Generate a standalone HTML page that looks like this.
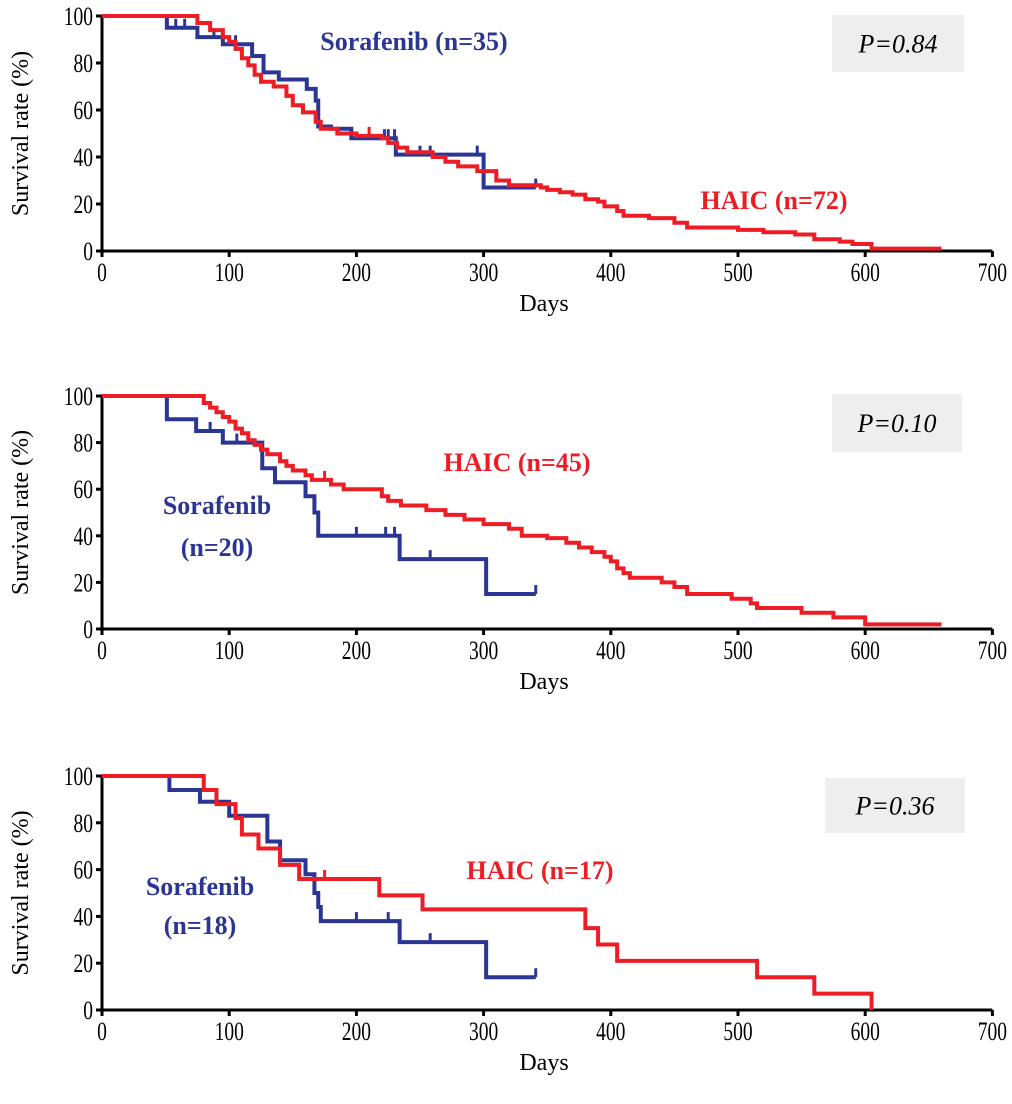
<!DOCTYPE html>
<html><head><meta charset="utf-8"><style>
html,body{margin:0;padding:0;background:#fff;}
svg{display:block;}
.tk{font-family:"Liberation Serif",serif;font-size:26px;fill:#000;}
.ttl{font-family:"Liberation Serif",serif;font-size:24px;fill:#000;}
.lab{font-family:"Liberation Serif",serif;font-weight:bold;font-size:26px;}
</style></head><body>
<svg id="chart" width="1012" height="1104" viewBox="0 0 1012 1104" xmlns="http://www.w3.org/2000/svg"></svg>
<script>
// Panel 1 data: [day, survival %]
const p1SoraT=[0,51,75,95,118,127,139,161,168,170,180,196,231,300,341];
const p1SoraS=[100,95,91,88,83,76,73,69,64,53,52,48,41,27,27];
const p1SoraCens=[58,65,88,105,118,196,222,225,230,250,258,295,341];
const p1HaicT=[0,68,75,85,95,100,105,110,115,120,125,135,145,150,158,168,172,185,200,220,225,232,240,260,270,280,295,310,320,345,350,360,370,380,390,395,405,410,430,450,460,500,520,545,560,580,590,605,660];
const p1HaicS=[100,100,97,94,91,89,86,82,79,75,72,70,66,62,59,55,52,50,49,48,46,44,42,40,38,36,34,30,28,27,26,25,24,22,21,19,17,15,14,12,10,9,8,7,5,4,3,1,1];
const p1HaicCens=[210];
// Panel 2
const p2SoraT=[0,51,74,95,126,136,160,167,170,234,302,341];
const p2SoraS=[100,90,85,80,69,63,57,50,40,30,15,15];
const p2SoraCens=[85,106,200,223,230,258,341];
const p2HaicT=[0,78,80,85,90,95,100,105,110,115,120,125,130,140,145,150,160,165,180,190,220,225,235,255,270,285,300,320,330,350,365,375,385,395,400,405,410,415,440,450,460,495,510,515,550,575,600,660];
const p2HaicS=[100,100,97,95,93,91,89,86,84,81,79,77,75,72,70,68,66,64,62,60,57,55,53,51,49,47,45,43,40,39,37,35,33,31,29,26,24,22,20,18,15,13,11,9,7,5,2,2];
const p2HaicCens=[175];
// Panel 3
const p3SoraT=[0,53,77,100,130,140,160,167,170,172,234,302,341];
const p3SoraS=[100,94,89,83,72,64,58,50,44,38,29,14,14];
const p3SoraCens=[90,200,225,258,341];
const p3HaicT=[0,80,90,105,110,123,140,155,218,252,380,390,405,515,560,605];
const p3HaicS=[100,94,88,82,75,69,62,56,49,43,35,28,21,14,7,0];
const p3HaicCens=[175];
const xTicks=[0,100,200,300,400,500,600,700];
const yTicks=[0,20,40,60,80,100];

const NS="http://www.w3.org/2000/svg";
const svg=document.getElementById('chart');
const BLUE="#2b3593",RED="#ee1c24";
function mk(tag,attrs,parent){const e=document.createElementNS(NS,tag);for(const k in attrs)e.setAttribute(k,attrs[k]);(parent||svg).appendChild(e);return e;}
const X0=102,XS=127.2/100;
function xs(d){return X0+d*XS;}

function panel(idx,top,bottom,sT,sS,sC,hT,hS,hC,pText,pBox,labels){
  const g=mk('g',{});
  
  
  const ys=v=>bottom-(bottom-top)*v/100;
  const ax=mk('path',{d:`M${X0} ${top} V${bottom} H${xs(700)}`,stroke:'#000','stroke-width':3,fill:'none'},g);
  
  
  xTicks.forEach(t=>{
    const l=mk('line',{x1:xs(t),x2:xs(t),y1:bottom,y2:bottom+6,stroke:'#000','stroke-width':3},g);
    
    
    const tx=mk('text',{x:xs(t),y:bottom+30,'text-anchor':'middle',class:'tk',transform:`translate(${xs(t)},0) scale(0.75,1) translate(${-xs(t)},0)`},g);
    tx.textContent=t;
    
    
  });
  yTicks.forEach(t=>{
    const l=mk('line',{x1:X0-6,x2:X0,y1:ys(t),y2:ys(t),stroke:'#000','stroke-width':3},g);
    
    
    const tx=mk('text',{x:93,y:ys(t)+9,'text-anchor':'end',class:'tk',transform:`translate(93,0) scale(0.75,1) translate(-93,0)`},g);
    tx.textContent=t;
    
    
  });
  const xt=mk('text',{x:544,y:bottom+60,'text-anchor':'middle',class:'ttl'},g);
  xt.textContent='Days';
  
  
  const cy=(top+bottom)/2;
  const yt=mk('text',{x:28,y:cy,'text-anchor':'middle',class:'ttl',transform:`rotate(-90 28 ${cy})`},g);
  yt.textContent='Survival rate  (%)';
  
  
  const pb=mk('rect',{x:pBox[0],y:pBox[1],width:pBox[2],height:pBox[3],fill:'#eeeeee'},g);
  
  
  const pt=mk('text',{x:pBox[0]+pBox[2]/2,y:pBox[1]+pBox[3]/2+9,'text-anchor':'middle','font-family':'Liberation Serif, serif','font-style':'italic','font-size':26},g);
  pt.textContent=pText;
  
  
  function curve(T,S,C,color,name){
    let d=`M${xs(T[0])} ${ys(S[0])}`;
    for(let i=1;i<T.length;i++){d+=` H${xs(T[i])} V${ys(S[i])}`;}
    const p=mk('path',{d:d,stroke:color,'stroke-width':4,fill:'none'},g);
    
    
    C.forEach(c=>{
      let s=S[0];for(let i=0;i<T.length;i++){if(T[i]<=c)s=S[i];}
      const t=mk('line',{x1:xs(c),x2:xs(c),y1:ys(s),y2:ys(s)-9,stroke:color,'stroke-width':3},g);
      
      
    });
  }
  curve(sT,sS,sC,BLUE,'sorafenib');
  curve(hT,hS,hC,RED,'haic');
  labels.forEach(L=>{
    const t=mk('text',{x:L[0],y:L[1],'text-anchor':'middle',class:'lab',fill:L[3]},g);
    t.textContent=L[2];
    
    
  });
}
panel(1,16,251,p1SoraT,p1SoraS,p1SoraCens,p1HaicT,p1HaicS,p1HaicCens,'P=0.84',[832,15,132,57],
  [[414,50,'Sorafenib (n=35)',BLUE,'sorafenib-label'],[774,209,'HAIC (n=72)',RED,'haic-label']]);
panel(2,396,629,p2SoraT,p2SoraS,p2SoraCens,p2HaicT,p2HaicS,p2HaicCens,'P=0.10',[832,394,130,58],
  [[217,514,'Sorafenib',BLUE,'sorafenib-label'],[217,556,'(n=20)',BLUE,'sorafenib-n-label'],[517,471,'HAIC (n=45)',RED,'haic-label']]);
panel(3,776,1010,p3SoraT,p3SoraS,p3SoraCens,p3HaicT,p3HaicS,p3HaicCens,'P=0.36',[825,778,140,55],
  [[200,895,'Sorafenib',BLUE,'sorafenib-label'],[200,934,'(n=18)',BLUE,'sorafenib-n-label'],[540,879,'HAIC (n=17)',RED,'haic-label']]);
</script>
</body></html>
